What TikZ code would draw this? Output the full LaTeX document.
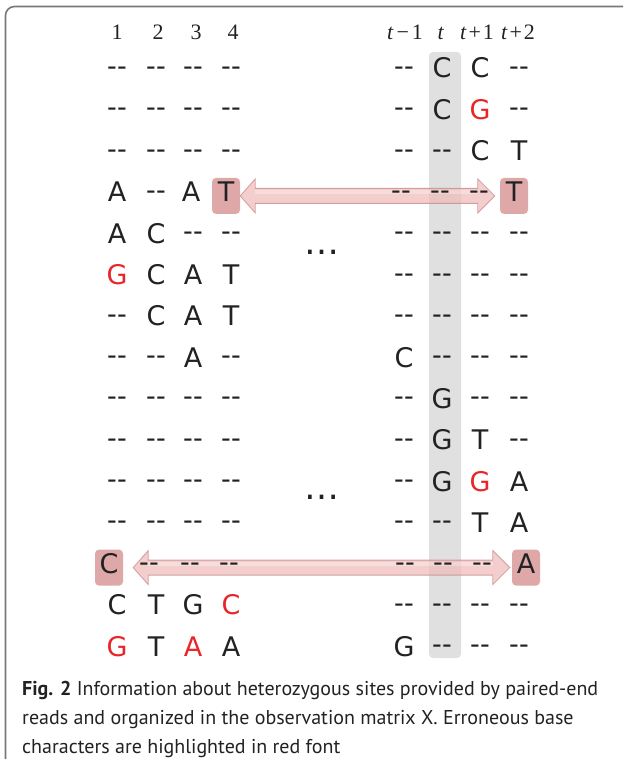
\documentclass[tikz,border=0pt]{standalone}
\usepackage{fontspec}
\setmainfont{Liberation Serif}
\newfontfamily\basefont{DejaVu Sans}
\newfontfamily\capfont{PT Sans}
\usetikzlibrary{calc}
\definecolor{errred}{RGB}{232,38,42}
\definecolor{ink}{RGB}{34,34,34}
\definecolor{colgray}{RGB}{224,224,224}
\definecolor{hlbox}{RGB}{222,168,168}
\definecolor{arrfill}{RGB}{240,186,186}
\definecolor{arredge}{RGB}{200,140,140}
\definecolor{framegray}{RGB}{120,120,120}
\newcommand\D{\raisebox{2.5pt}{-\kern0.5pt-}}
\newcommand\Rd[1]{\textcolor{errred}{#1}}
\tikzset{
 cellbox/.style={font=\basefont\fontsize{27}{27}\selectfont, text=ink, anchor=base, inner sep=0pt},
 hdrtext/.style={font=\fontsize{22}{22}\selectfont, text=ink, anchor=base, inner sep=0pt},
 hlcell/.style={cellbox, fill=hlbox, rounded corners=4pt, minimum width=28pt, text height=24pt, text depth=12pt},
 captext/.style={font=\capfont\fontsize{20}{20}\selectfont, text=ink, anchor=base west, inner sep=0pt},
 pinkarrow/.style={fill=arrfill, draw=arredge, line width=0.8pt, fill opacity=0.72, draw opacity=0.8},
 dotsnode/.style={font=\basefont\fontsize{35}{35}\selectfont, text=ink, inner sep=0pt, anchor=center},
}
\newcommand\dblarrow[4]{%
 \filldraw[pinkarrow] let \p1=(#1.east), \p2=(#2.west), \p3=(#1.center) in
  (\x1+#3pt,\y3) -- (\x1+#3pt+15pt,\y3+17pt) -- (\x1+#3pt+15pt,\y3+7.5pt)
  -- (\x2-#4pt-17pt,\y3+7.5pt) -- (\x2-#4pt-17pt,\y3+17pt) -- (\x2-#4pt,\y3)
  -- (\x2-#4pt-17pt,\y3-17pt) -- (\x2-#4pt-17pt,\y3-7.5pt)
  -- (\x1+#3pt+15pt,\y3-7.5pt) -- (\x1+#3pt+15pt,\y3-17pt) -- cycle;
 \fill[white, opacity=0.3] let \p1=(#1.east), \p2=(#2.west), \p3=(#1.center) in
  (\x1+#3pt+15pt,\y3+5.5pt) rectangle (\x2-#4pt-17pt,\y3+2pt);
}
\begin{document}
\begin{tikzpicture}[x=1pt,y=-1pt]
\useasboundingbox (0,0) rectangle (623,759);
\draw[framegray, line width=1.6pt] (5.5,760) -- (5.5,15.5) arc[start angle=180, end angle=270, radius=9] -- (623,6.5);
% column t
\fill[colgray, rounded corners=4pt] (429,52) rectangle (461,658);
% header
\node[hdrtext] (h1) at (117,40) {1};
\node[hdrtext] (h2) at (158,40) {2};
\node[hdrtext] (h3) at (196,40) {3};
\node[hdrtext] (h4) at (233,40) {4};
\node[hdrtext] (h5) at (405,40) {\textit{t}\kern3pt−\kern3pt1};
\node[hdrtext] (h6) at (441,40) {\textit{t}};
\node[hdrtext] (h7) at (477,40) {\textit{t}\kern2pt+\kern2pt1};
\node[hdrtext] (h8) at (518,40) {\textit{t}\kern2pt+\kern2pt2};
% highlighted cells
\node[hlcell] (lt) at (226,201.9) {T};
\node[hlcell] (rt) at (514,201.9) {T};
\node[hlcell] (lc) at (109,573.6) {C};
\node[hlcell] (ra) at (526,573.6) {A};
% arrows
\dblarrow{lt}{rt}{0}{5}
\dblarrow{lc}{ra}{10}{2}
% row 4
\node[cellbox] (r4c1) at (117,201.9) {A};
\node[cellbox] (r4c2) at (156,201.9) {\D};
\node[cellbox] (r4c3) at (191,201.9) {A};
\node[cellbox] (r4c5) at (401,201.9) {\D};
\node[cellbox] (r4c6) at (440,201.9) {\D};
\node[cellbox] (r4c7) at (479,201.9) {\D};
% row 13
\node[cellbox] (r13c2) at (149,573.6) {\D};
\node[cellbox] (r13c3) at (190,573.6) {\D};
\node[cellbox] (r13c4) at (229,573.6) {\D};
\node[cellbox] (r13c5) at (405,573.6) {\D};
\node[cellbox] (r13c6) at (443,573.6) {\D};
\node[cellbox] (r13c7) at (482,573.6) {\D};
% other rows
\foreach \r/\a/\b/\c/\d/\e/\f/\g/\h in {
1/\D/\D/\D/\D/\D/C/C/\D,
2/\D/\D/\D/\D/\D/C/\Rd{G}/\D,
3/\D/\D/\D/\D/\D/\D/C/T,
5/A/C/\D/\D/\D/\D/\D/\D,
6/\Rd{G}/C/A/T/\D/\D/\D/\D,
7/\D/C/A/T/\D/\D/\D/\D,
8/\D/\D/A/\D/C/\D/\D/\D,
9/\D/\D/\D/\D/\D/G/\D/\D,
10/\D/\D/\D/\D/\D/G/T/\D,
11/\D/\D/\D/\D/\D/G/\Rd{G}/A,
12/\D/\D/\D/\D/\D/\D/T/A,
14/C/T/G/\Rd{C}/\D/\D/\D/\D,
15/\Rd{G}/T/\Rd{A}/A/G/\D/\D/\D}{
 \pgfmathsetmacro\yb{68+(\r-1)*41.3+10}
 \node[cellbox] (r\r c1) at (117,\yb) {\a};
 \node[cellbox] (r\r c2) at (156,\yb) {\b};
 \node[cellbox] (r\r c3) at (193,\yb) {\c};
 \node[cellbox] (r\r c4) at (231,\yb) {\d};
 \node[cellbox] (r\r c5) at (404,\yb) {\e};
 \node[cellbox] (r\r c6) at (442,\yb) {\f};
 \node[cellbox] (r\r c7) at (480,\yb) {\g};
 \node[cellbox] (r\r c8) at (519,\yb) {\h};
}
% ellipses
\node[dotsnode] (el1) at (322,252) {…};
\node[dotsnode] (el2) at (322,497) {…};
% caption
\node[captext] (cap1) at (22,695) {\textbf{Fig. 2} Information about heterozygous sites provided by paired-end};
\node[captext] (cap2) at (22,724) {reads and organized in the observation matrix X. Erroneous base};
\node[captext] (cap3) at (22,753) {characters are highlighted in red font};
\end{tikzpicture}
\end{document}
